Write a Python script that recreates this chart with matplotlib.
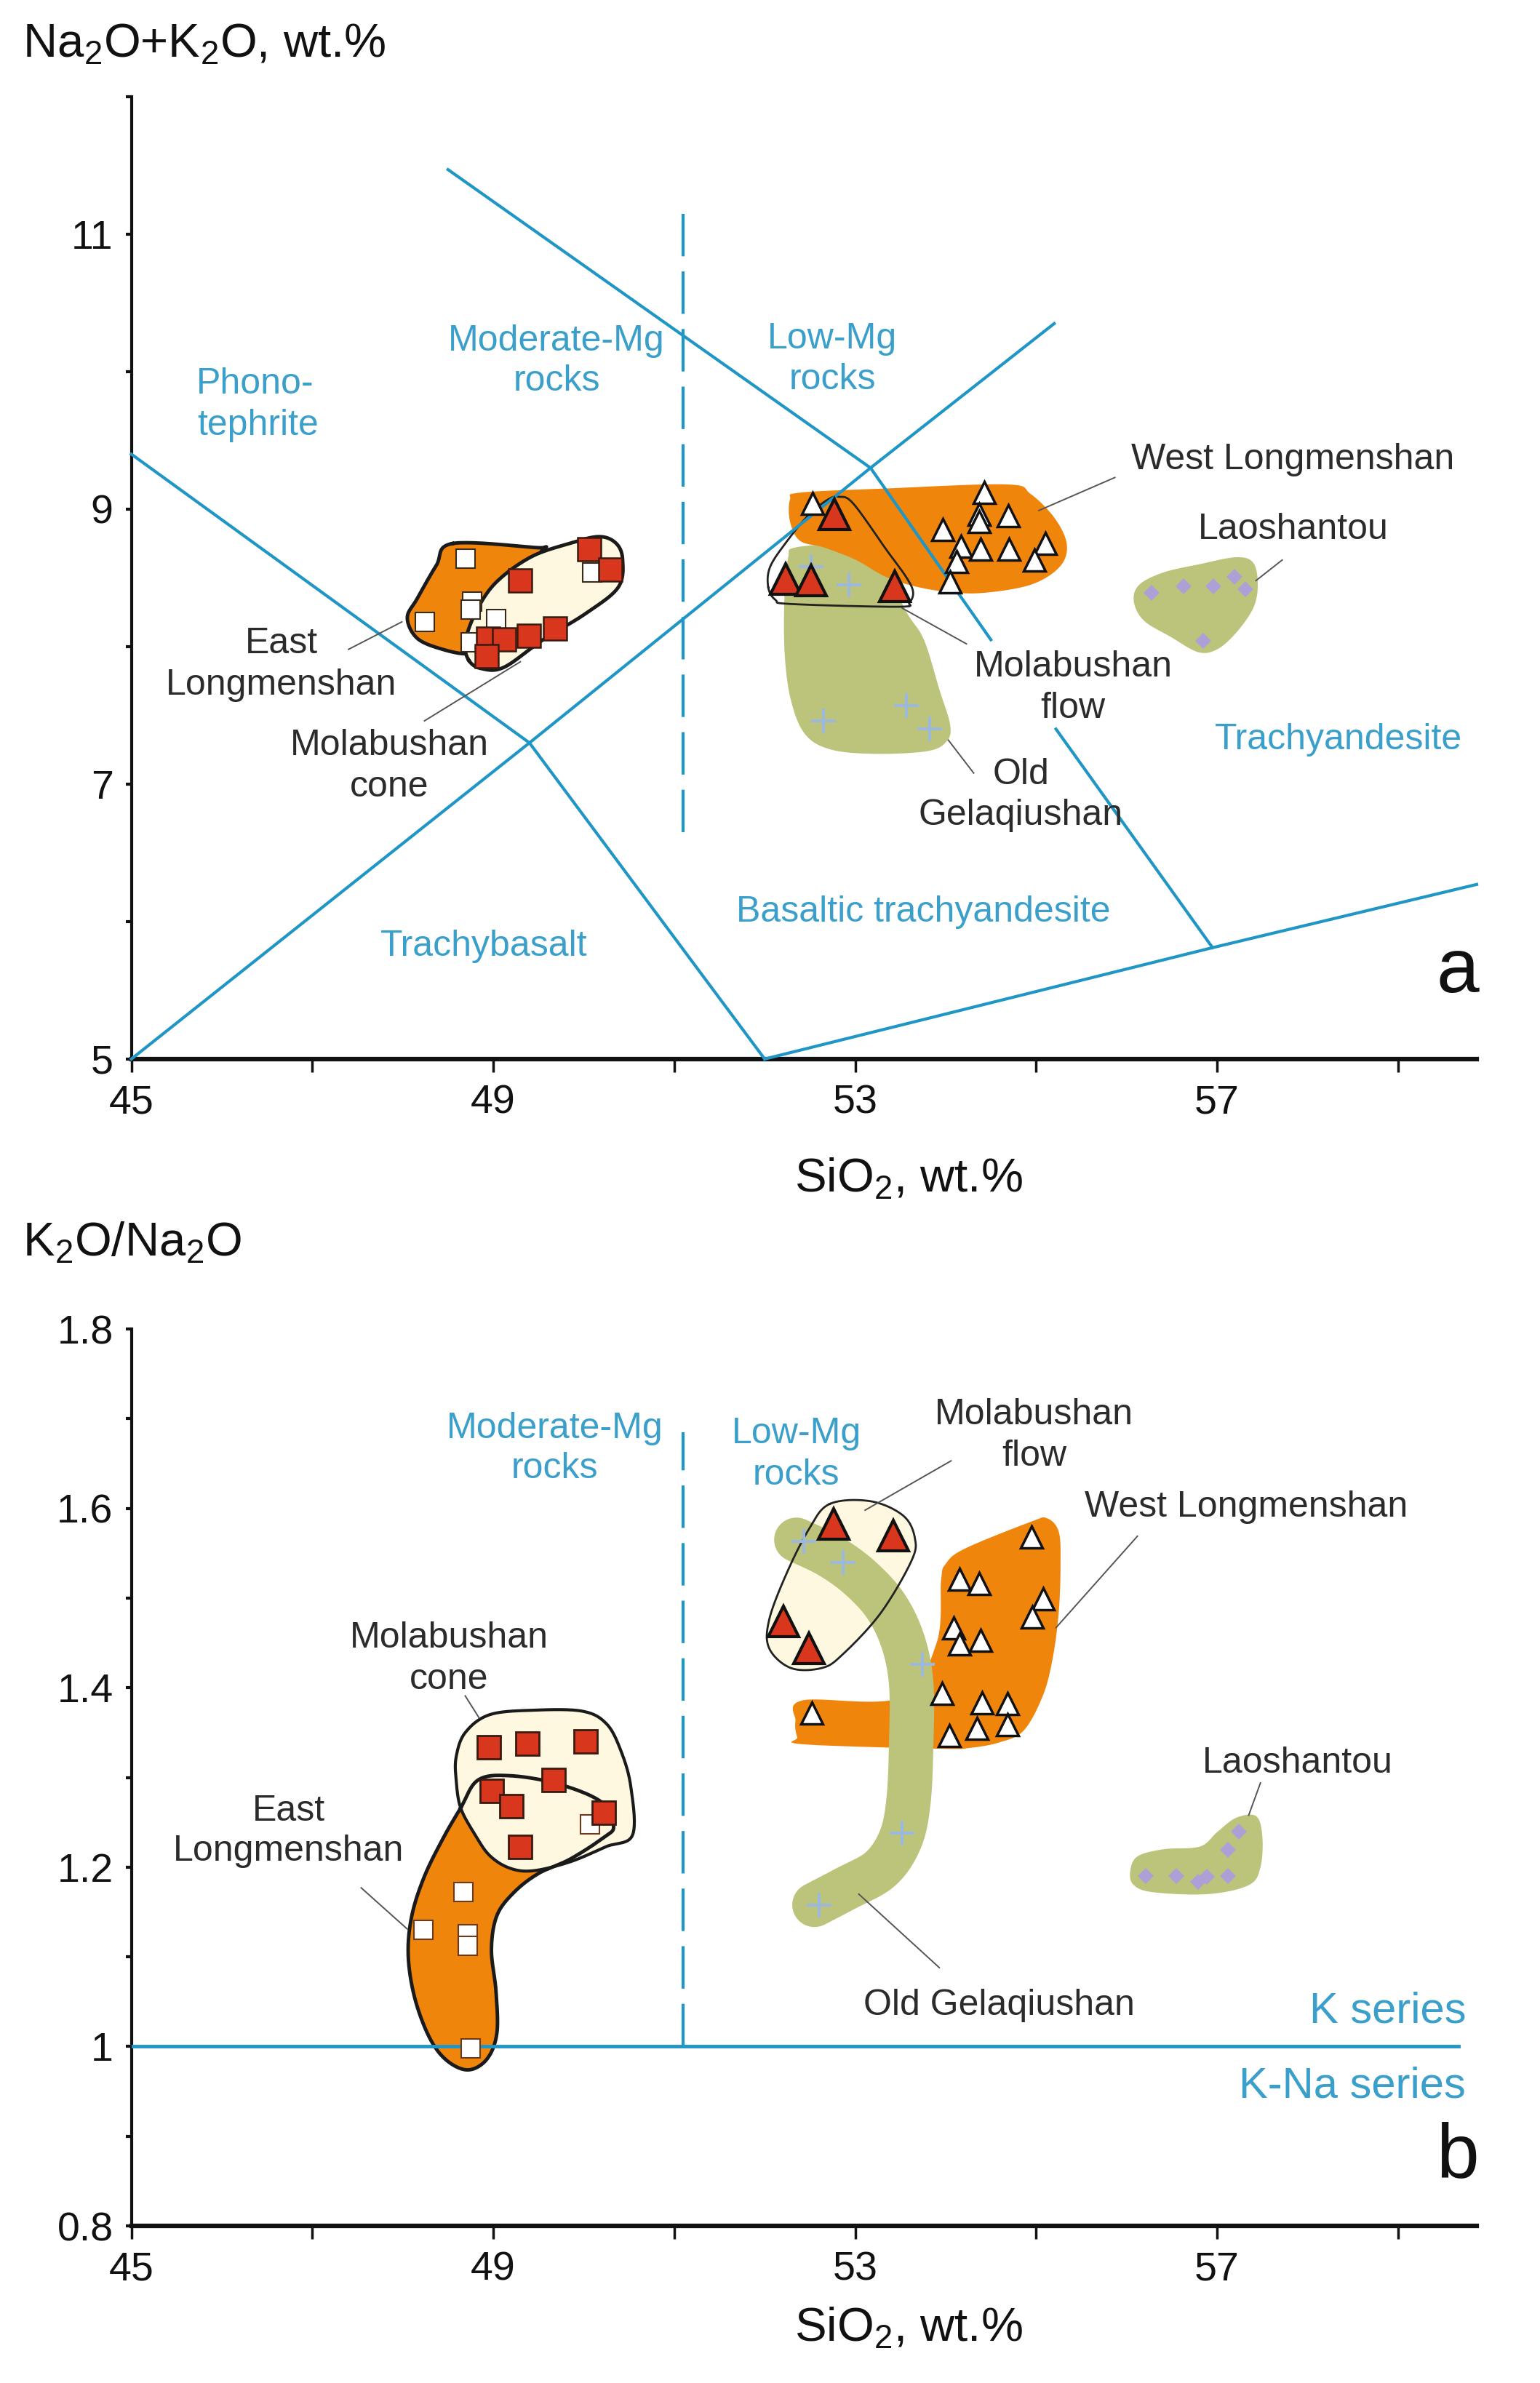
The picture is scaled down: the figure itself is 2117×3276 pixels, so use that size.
import numpy as np
import matplotlib
matplotlib.use("Agg")
import matplotlib.pyplot as plt

plt.rcParams['font.family'] = ['Liberation Sans', 'DejaVu Sans']
plt.rcParams['mathtext.fontset'] = 'custom'
plt.rcParams['mathtext.rm'] = 'Liberation Sans'
plt.rcParams['mathtext.it'] = 'Liberation Sans:italic'

# ---------------- colours ----------------
BLUE = '#1f96c6'
BLUE_TXT = '#3a9fca'
ORANGE = '#f0850c'
GREEN = '#bcc47b'
CREAM = '#fdf8df'
RED = '#d8361d'
CROSS = '#9db8da'
LAV = '#ae9fd6'
TXT = '#2b2b2b'

# ---------------- panel a: TAS boundaries ----------------
tas1_x = [45.0, 49.4, 52.0]
tas1_y = [9.4, 7.3, 5.0]
tas2_x = [45.0, 49.4, 53.17, 55.2]
tas2_y = [5.0, 7.3, 9.3, 10.35]
tas3_x = [48.5, 53.17, 54.5, np.nan, 55.22, 56.95]
tas3_y = [11.47, 9.3, 8.05, np.nan, 7.40, 5.81]
tas4_x = [52.0, 56.95, 59.87]
tas4_y = [5.0, 5.81, 6.27]
mg_boundary = 51.1

# ---------------- panel a: fields ----------------
ela_x = [48.55, 49.48, 49.55, 49.30, 48.94, 48.80, 48.72, 48.44, 48.16, 48.05, 48.16, 48.37]
ela_y = [8.75, 8.72, 8.71, 8.52, 8.28, 8.03, 7.95, 7.98, 8.06, 8.21, 8.35, 8.59]
mca_x = [48.73, 48.69, 48.80, 49.02, 49.41, 49.84, 50.17, 50.36, 50.43, 50.38, 50.02, 49.55, 49.12, 48.87]
mca_y = [7.90, 8.03, 8.24, 8.46, 8.65, 8.75, 8.80, 8.75, 8.63, 8.43, 8.24, 8.05, 7.85, 7.84]
wla_x = [52.28, 52.39, 53.33, 54.67, 54.94, 55.21, 55.34, 55.26, 54.94, 54.40, 54.00, 53.65, 53.33, 53.01, 52.66, 52.39, 52.28]
wla_y = [9.07, 9.12, 9.15, 9.18, 9.11, 8.93, 8.74, 8.58, 8.45, 8.39, 8.40, 8.44, 8.51, 8.63, 8.72, 8.77, 8.91]
oga_x = [52.33, 52.82, 53.23, 53.56, 53.76, 53.93, 54.05, 54.01, 53.80, 53.23, 52.74, 52.45, 52.29, 52.22, 52.22, 52.26]
oga_y = [8.72, 8.74, 8.68, 8.26, 8.05, 7.69, 7.43, 7.31, 7.24, 7.22, 7.25, 7.36, 7.61, 7.96, 8.40, 8.65]
mfa_x = [52.04, 52.12, 52.29, 53.48, 53.60, 53.64, 53.56, 53.35, 52.98, 52.82, 52.70, 52.49, 52.25, 52.06]
mfa_y = [8.43, 8.34, 8.31, 8.29, 8.32, 8.40, 8.51, 8.70, 9.04, 9.09, 9.07, 8.96, 8.77, 8.58]
laa_x = [56.14, 56.41, 56.81, 57.21, 57.40, 57.45, 57.40, 57.21, 57.00, 56.79, 56.49, 56.19, 56.08]
laa_y = [8.45, 8.54, 8.60, 8.65, 8.61, 8.45, 8.28, 8.10, 7.98, 7.96, 8.07, 8.19, 8.33]

# ---------------- panel a: samples ----------------
a_el_x = [48.69, 48.77, 48.75, 48.24, 49.03, 48.75, 50.09]
a_el_y = [8.64, 8.33, 8.27, 8.18, 8.20, 8.03, 8.54]
a_mc_x = [49.30, 50.06, 50.29, 48.94, 49.12, 49.39, 49.68, 48.93]
a_mc_y = [8.48, 8.71, 8.56, 8.06, 8.05, 8.08, 8.13, 7.93]
a_wl_x = [52.53, 54.43, 54.37, 54.37, 54.69, 53.97, 54.17, 54.39, 54.70, 55.10, 54.98, 54.12, 54.05]
a_wl_y = [9.04, 9.12, 8.96, 8.91, 8.95, 8.85, 8.73, 8.71, 8.71, 8.75, 8.63, 8.62, 8.47]
a_mf_x = [52.77, 52.23, 52.51, 53.44]
a_mf_y = [8.96, 8.49, 8.48, 8.44]
a_og_x = [52.93, 52.51, 53.57, 52.65, 53.82]
a_og_y = [8.45, 8.58, 7.57, 7.46, 7.40]
a_ls_x = [56.28, 56.63, 56.96, 57.19, 57.31, 56.85]
a_ls_y = [8.39, 8.44, 8.44, 8.51, 8.42, 8.04]

# ---------------- panel b: fields ----------------
elb_x = [48.64, 48.83, 49.18, 49.71, 50.19, 50.33, 50.22, 49.85, 49.50, 49.23, 49.04, 48.98, 49.03,
         49.04, 48.93, 48.72, 48.48, 48.29, 48.13, 48.06, 48.10, 48.24, 48.45]
elb_y = [1.266, 1.297, 1.302, 1.293, 1.273, 1.246, 1.233, 1.209, 1.193, 1.172, 1.146, 1.108, 1.062,
         1.015, 0.986, 0.974, 0.985, 1.011, 1.055, 1.102, 1.146, 1.190, 1.233]
mcb_x = [48.64, 48.59, 48.59, 48.69, 48.96, 49.44, 49.98, 50.25, 50.41, 50.52, 50.54, 50.25, 49.85,
         49.44, 49.18, 48.96, 48.80]
mcb_y = [1.266, 1.297, 1.323, 1.350, 1.370, 1.375, 1.374, 1.360, 1.330, 1.290, 1.236, 1.223, 1.206,
         1.196, 1.199, 1.213, 1.236]
wlb_x = [52.34, 52.42, 53.50, 53.90, 53.95, 54.00, 54.21, 54.94, 55.12, 55.25, 55.27, 55.25, 55.18,
         55.07, 54.86, 54.59, 54.27, 53.95, 52.43, 52.36]
wlb_y = [1.363, 1.386, 1.389, 1.45, 1.52, 1.538, 1.555, 1.585, 1.589, 1.574, 1.538, 1.484, 1.431,
         1.390, 1.352, 1.339, 1.333, 1.332, 1.337, 1.345]
mfb_x = [52.72, 53.17, 53.53, 53.66, 53.62, 53.28, 52.86, 52.63, 52.29, 52.05, 52.05, 52.24, 52.49]
mfb_y = [1.605, 1.608, 1.592, 1.567, 1.541, 1.483, 1.437, 1.422, 1.422, 1.444, 1.476, 1.527, 1.577]
ogb_x = [52.35, 52.72, 53.05, 53.34, 53.53, 53.62, 53.62, 53.59, 53.50, 53.28, 52.91, 52.55]
ogb_y = [1.565, 1.547, 1.523, 1.491, 1.451, 1.404, 1.339, 1.274, 1.231, 1.198, 1.177, 1.158]
lab_x = [56.04, 56.12, 56.41, 56.81, 57.00, 57.21, 57.43, 57.50, 57.48, 57.35, 56.90, 56.30, 56.08]
lab_y = [1.195, 1.212, 1.220, 1.223, 1.239, 1.255, 1.257, 1.235, 1.200, 1.180, 1.170, 1.172, 1.180]
series_boundary = 1.0

# ---------------- panel b: samples ----------------
b_el_x = [48.67, 48.23, 48.72, 48.72, 48.75, 50.07]
b_el_y = [1.172, 1.130, 1.125, 1.112, 0.998, 1.248]
b_mc_x = [48.95, 49.38, 50.02, 49.67, 48.98, 49.20, 50.22, 49.30]
b_mc_y = [1.334, 1.338, 1.340, 1.297, 1.285, 1.268, 1.261, 1.223]
b_wl_x = [54.95, 54.15, 54.37, 55.08, 54.96, 54.09, 54.15, 54.39, 53.96, 54.40, 54.68, 54.35, 54.68, 54.04, 52.52]
b_wl_y = [1.568, 1.521, 1.516, 1.499, 1.479, 1.467, 1.449, 1.453, 1.394, 1.383, 1.382, 1.355, 1.359, 1.347, 1.372]
b_mf_x = [52.76, 53.42, 52.21, 52.49]
b_mf_y = [1.583, 1.570, 1.474, 1.444]
b_og_x = [52.43, 52.87, 53.74, 53.52, 52.60]
b_og_y = [1.563, 1.540, 1.426, 1.238, 1.158]
b_ls_x = [57.24, 57.12, 56.21, 56.55, 56.79, 56.89, 57.12]
b_ls_y = [1.240, 1.219, 1.190, 1.190, 1.184, 1.189, 1.190]

x_ticks = [45, 47, 49, 51, 53, 55, 57, 59]
x_ticklabels = ['45', '', '49', '', '53', '', '57', '']
ya_ticks = [5, 6, 7, 8, 9, 10, 11, 12]
ya_ticklabels = ['5', '', '7', '', '9', '', '11', '']
yb_ticks = [0.8, 0.9, 1.0, 1.1, 1.2, 1.3, 1.4, 1.5, 1.6, 1.7, 1.8]
yb_ticklabels = ['0.8', '', '1', '', '1.2', '', '1.4', '', '1.6', '', '1.8']

LBL = 36


def smooth_closed(xs, ys, n=24):
    pts = np.column_stack([xs, ys]).astype(float)
    N = len(pts)
    t = np.linspace(0, 1, n, endpoint=False)[:, None]
    out = []
    for i in range(N):
        p0, p1, p2, p3 = pts[(i - 1) % N], pts[i], pts[(i + 1) % N], pts[(i + 2) % N]
        seg = 0.5 * (2 * p1 + (-p0 + p2) * t + (2 * p0 - 5 * p1 + 4 * p2 - p3) * t ** 2
                     + (-p0 + 3 * p1 - 3 * p2 + p3) * t ** 3)
        out.append(seg)
    out = np.vstack(out)
    return np.vstack([out, out[:1]])


def smooth_open(xs, ys, n=24):
    pts = np.column_stack([xs, ys]).astype(float)
    pts = np.vstack([pts[:1], pts, pts[-1:]])
    t = np.linspace(0, 1, n, endpoint=False)[:, None]
    out = []
    for i in range(1, len(pts) - 2):
        p0, p1, p2, p3 = pts[i - 1], pts[i], pts[i + 1], pts[i + 2]
        seg = 0.5 * (2 * p1 + (-p0 + p2) * t + (2 * p0 - 5 * p1 + 4 * p2 - p3) * t ** 2
                     + (-p0 + 3 * p1 - 3 * p2 + p3) * t ** 3)
        out.append(seg)
    out.append(pts[-2:-1])
    return np.vstack(out)


def field(ax, xs, ys, fc, ec=None, lw=0, z=2, fill=True):
    p = smooth_closed(xs, ys)
    if fill:
        ax.fill(p[:, 0], p[:, 1], color=fc, lw=0, zorder=z)
    if ec is not None:
        ax.plot(p[:, 0], p[:, 1], color=ec, lw=lw, zorder=z + 0.1, solid_joinstyle='round')


def style_axes(ax, ylim, yticks, ylabels):
    ax.set_xlim(45, 59.87)
    ax.set_ylim(*ylim)
    for s in ['top', 'right']:
        ax.spines[s].set_visible(False)
    ax.spines['bottom'].set_linewidth(4.5)
    ax.spines['left'].set_linewidth(3)
    ax.spines['bottom'].set_color('#111111')
    ax.spines['left'].set_color('#111111')
    ax.set_xticks(x_ticks)
    ax.set_xticklabels(x_ticklabels)
    ax.set_yticks(yticks)
    ax.set_yticklabels(ylabels)
    ax.tick_params(axis='x', direction='out', length=13, width=2.5, pad=12,
                   labelsize=40, colors='#111111')
    ax.tick_params(axis='y', direction='out', length=6, width=3, pad=12,
                   labelsize=40, colors='#111111')
    ax.set_facecolor('white')


def label(ax, x, y, s, color=TXT, size=LBL, ha='center'):
    ax.text(x, y, s, color=color, fontsize=size, ha=ha, va='center', zorder=6,
            linespacing=1.05)


def leader(ax, x0, y0, x1, y1):
    ax.plot([x0, x1], [y0, y1], color='#555555', lw=1.4, zorder=4.5)


fig = plt.figure(figsize=(21.17, 32.76), dpi=100)
fig.patch.set_facecolor('white')
axa = fig.add_axes([0.0853, 0.5556, 0.8736, 0.4038])
axb = fig.add_axes([0.0853, 0.0659, 0.8736, 0.3764])

# ================= panel a =================
field(axa, oga_x, oga_y, GREEN, z=2)
field(axa, wla_x, wla_y, ORANGE, z=2.2)
field(axa, mfa_x, mfa_y, None, ec='#222222', lw=2, z=3, fill=False)
field(axa, laa_x, laa_y, GREEN, z=2)
field(axa, ela_x, ela_y, ORANGE, ec='#1a1a1a', lw=3.5, z=2)
field(axa, mca_x, mca_y, CREAM, ec='#1a1a1a', lw=3.5, z=3)

axa.plot(tas1_x, tas1_y, color=BLUE, lw=3, zorder=4, clip_on=False)
axa.plot(tas2_x, tas2_y, color=BLUE, lw=3, zorder=4, clip_on=False)
axa.plot(tas3_x, tas3_y, color=BLUE, lw=3, zorder=4, clip_on=False)
axa.plot(tas4_x, tas4_y, color=BLUE, lw=3, zorder=4, clip_on=False)
axa.plot([mg_boundary, mg_boundary], [6.65, 11.15], color=BLUE, lw=3, zorder=4,
         dashes=(14, 5))

axa.plot(a_el_x, a_el_y, 's', ms=19, mfc='white', mec='#3a2a1a', mew=1.5, zorder=5)
axa.plot(a_mc_x, a_mc_y, 's', ms=23, mfc=RED, mec='#3a1a10', mew=1.8, zorder=5.1)
axa.plot(a_og_x, a_og_y, '+', ms=24, mec=CROSS, mew=3, zorder=4.8)
axa.plot(a_wl_x, a_wl_y, '^', ms=22, mfc='white', mec='#111111', mew=2.5, zorder=5)
axa.plot(a_mf_x, a_mf_y, '^', ms=30, mfc=RED, mec='#111111', mew=3, zorder=5.1)
axa.plot(a_ls_x, a_ls_y, 'D', ms=11, mfc=LAV, mec=LAV, mew=0, zorder=5)

label(axa, 46.37, 9.91, 'Phono-', BLUE_TXT)
label(axa, 46.40, 9.61, 'tephrite', BLUE_TXT)
label(axa, 49.70, 10.22, 'Moderate-Mg', BLUE_TXT)
label(axa, 49.70, 9.93, 'rocks', BLUE_TXT)
label(axa, 52.75, 10.24, 'Low-Mg', BLUE_TXT)
label(axa, 52.75, 9.94, 'rocks', BLUE_TXT)
label(axa, 48.90, 5.82, 'Trachybasalt', BLUE_TXT)
label(axa, 53.75, 6.07, 'Basaltic trachyandesite', BLUE_TXT)
label(axa, 58.34, 7.32, 'Trachyandesite', BLUE_TXT)

label(axa, 46.66, 8.02, 'East')
label(axa, 46.66, 7.72, 'Longmenshan')
label(axa, 47.85, 7.28, 'Molabushan')
label(axa, 47.85, 6.98, 'cone')
label(axa, 57.84, 9.36, 'West Longmenshan')
label(axa, 57.84, 8.85, 'Laoshantou')
label(axa, 55.41, 7.85, 'Molabushan')
label(axa, 55.41, 7.55, 'flow')
label(axa, 54.83, 7.07, 'Old')
label(axa, 54.83, 6.77, 'Gelaqiushan')
label(axa, 59.66, 5.63, 'a', color='#111111', size=76)

leader(axa, 47.40, 7.98, 47.99, 8.18)
leader(axa, 48.24, 7.46, 49.30, 7.89)
leader(axa, 55.87, 9.23, 55.03, 8.99)
leader(axa, 57.72, 8.63, 57.43, 8.48)
leader(axa, 54.23, 8.02, 53.52, 8.28)
leader(axa, 54.31, 7.08, 54.03, 7.32)

style_axes(axa, (5, 12), ya_ticks, ya_ticklabels)

# ================= panel b =================
field(axb, elb_x, elb_y, ORANGE, z=2)
field(axb, mcb_x, mcb_y, CREAM, ec='#1a1a1a', lw=3, z=2.6)
pe = smooth_closed(elb_x, elb_y)
axb.plot(pe[:, 0], pe[:, 1], color='#1a1a1a', lw=3.5, zorder=2.8)

field(axb, wlb_x, wlb_y, ORANGE, z=2)
field(axb, mfb_x, mfb_y, CREAM, z=2.1)
band = smooth_open(ogb_x, ogb_y)
axb.plot(band[:, 0], band[:, 1], color=GREEN, lw=44, solid_capstyle='round',
         solid_joinstyle='round', zorder=2.5)
field(axb, mfb_x, mfb_y, None, ec='#222222', lw=2, z=2.7, fill=False)
field(axb, lab_x, lab_y, GREEN, z=2)

axb.axhline(series_boundary, xmin=0, xmax=(59.67 - 45) / (59.87 - 45), color=BLUE, lw=3.5, zorder=4)
axb.plot([mg_boundary, mg_boundary], [1.0, 1.685], color=BLUE, lw=3, zorder=4, dashes=(14, 5))

axb.plot(b_el_x, b_el_y, 's', ms=19, mfc='white', mec='#6a3a1a', mew=1.5, zorder=5)
axb.plot(b_mc_x, b_mc_y, 's', ms=23, mfc=RED, mec='#3a1a10', mew=2, zorder=5.1)
axb.plot(b_og_x, b_og_y, '+', ms=24, mec=CROSS, mew=3, zorder=4.8)
axb.plot(b_wl_x, b_wl_y, '^', ms=22, mfc='white', mec='#111111', mew=2.5, zorder=5)
axb.plot(b_mf_x, b_mf_y, '^', ms=30, mfc=RED, mec='#111111', mew=3, zorder=5.1)
axb.plot(b_ls_x, b_ls_y, 'D', ms=11, mfc=LAV, mec=LAV, mew=0, zorder=5)

label(axb, 49.68, 1.689, 'Moderate-Mg', BLUE_TXT)
label(axb, 49.68, 1.644, 'rocks', BLUE_TXT)
label(axb, 52.35, 1.683, 'Low-Mg', BLUE_TXT)
label(axb, 52.35, 1.637, 'rocks', BLUE_TXT)
label(axb, 59.75, 1.039, 'K series', BLUE_TXT, size=43, ha='right')
label(axb, 59.75, 0.956, 'K-Na series', BLUE_TXT, size=43, ha='right')

label(axb, 54.98, 1.704, 'Molabushan')
label(axb, 54.98, 1.658, 'flow')
label(axb, 57.32, 1.601, 'West Longmenshan')
label(axb, 48.51, 1.455, 'Molabushan')
label(axb, 48.51, 1.409, 'cone')
label(axb, 46.74, 1.262, 'East')
label(axb, 46.74, 1.218, 'Longmenshan')
label(axb, 57.89, 1.316, 'Laoshantou')
label(axb, 54.59, 1.046, 'Old Gelaqiushan')
label(axb, 59.66, 0.877, 'b', color='#111111', size=76)

leader(axb, 54.06, 1.653, 53.11, 1.598)
leader(axb, 56.12, 1.569, 55.22, 1.467)
leader(axb, 48.69, 1.391, 48.84, 1.367)
leader(axb, 47.54, 1.177, 48.05, 1.131)
leader(axb, 57.48, 1.294, 57.35, 1.258)
leader(axb, 53.04, 1.170, 53.93, 1.088)

style_axes(axb, (0.8, 1.8), yb_ticks, yb_ticklabels)

# ---------------- axis titles ----------------
fig.text(31 / 2117, 1 - 62 / 3276, r'Na$_2$O+K$_2$O, wt.%', fontsize=47, ha='left',
         va='center', color='#111111')
fig.text(31 / 2117, 1 - 1709 / 3276, r'K$_2$O/Na$_2$O', fontsize=47, ha='left',
         va='center', color='#111111')
fig.text(1249 / 2117, 1 - 1621 / 3276, r'SiO$_2$, wt.%', fontsize=47, ha='center',
         va='center', color='#111111')
fig.text(1249 / 2117, 1 - 3201 / 3276, r'SiO$_2$, wt.%', fontsize=47, ha='center',
         va='center', color='#111111')

fig.savefig('out.png', dpi=100, facecolor='white')
